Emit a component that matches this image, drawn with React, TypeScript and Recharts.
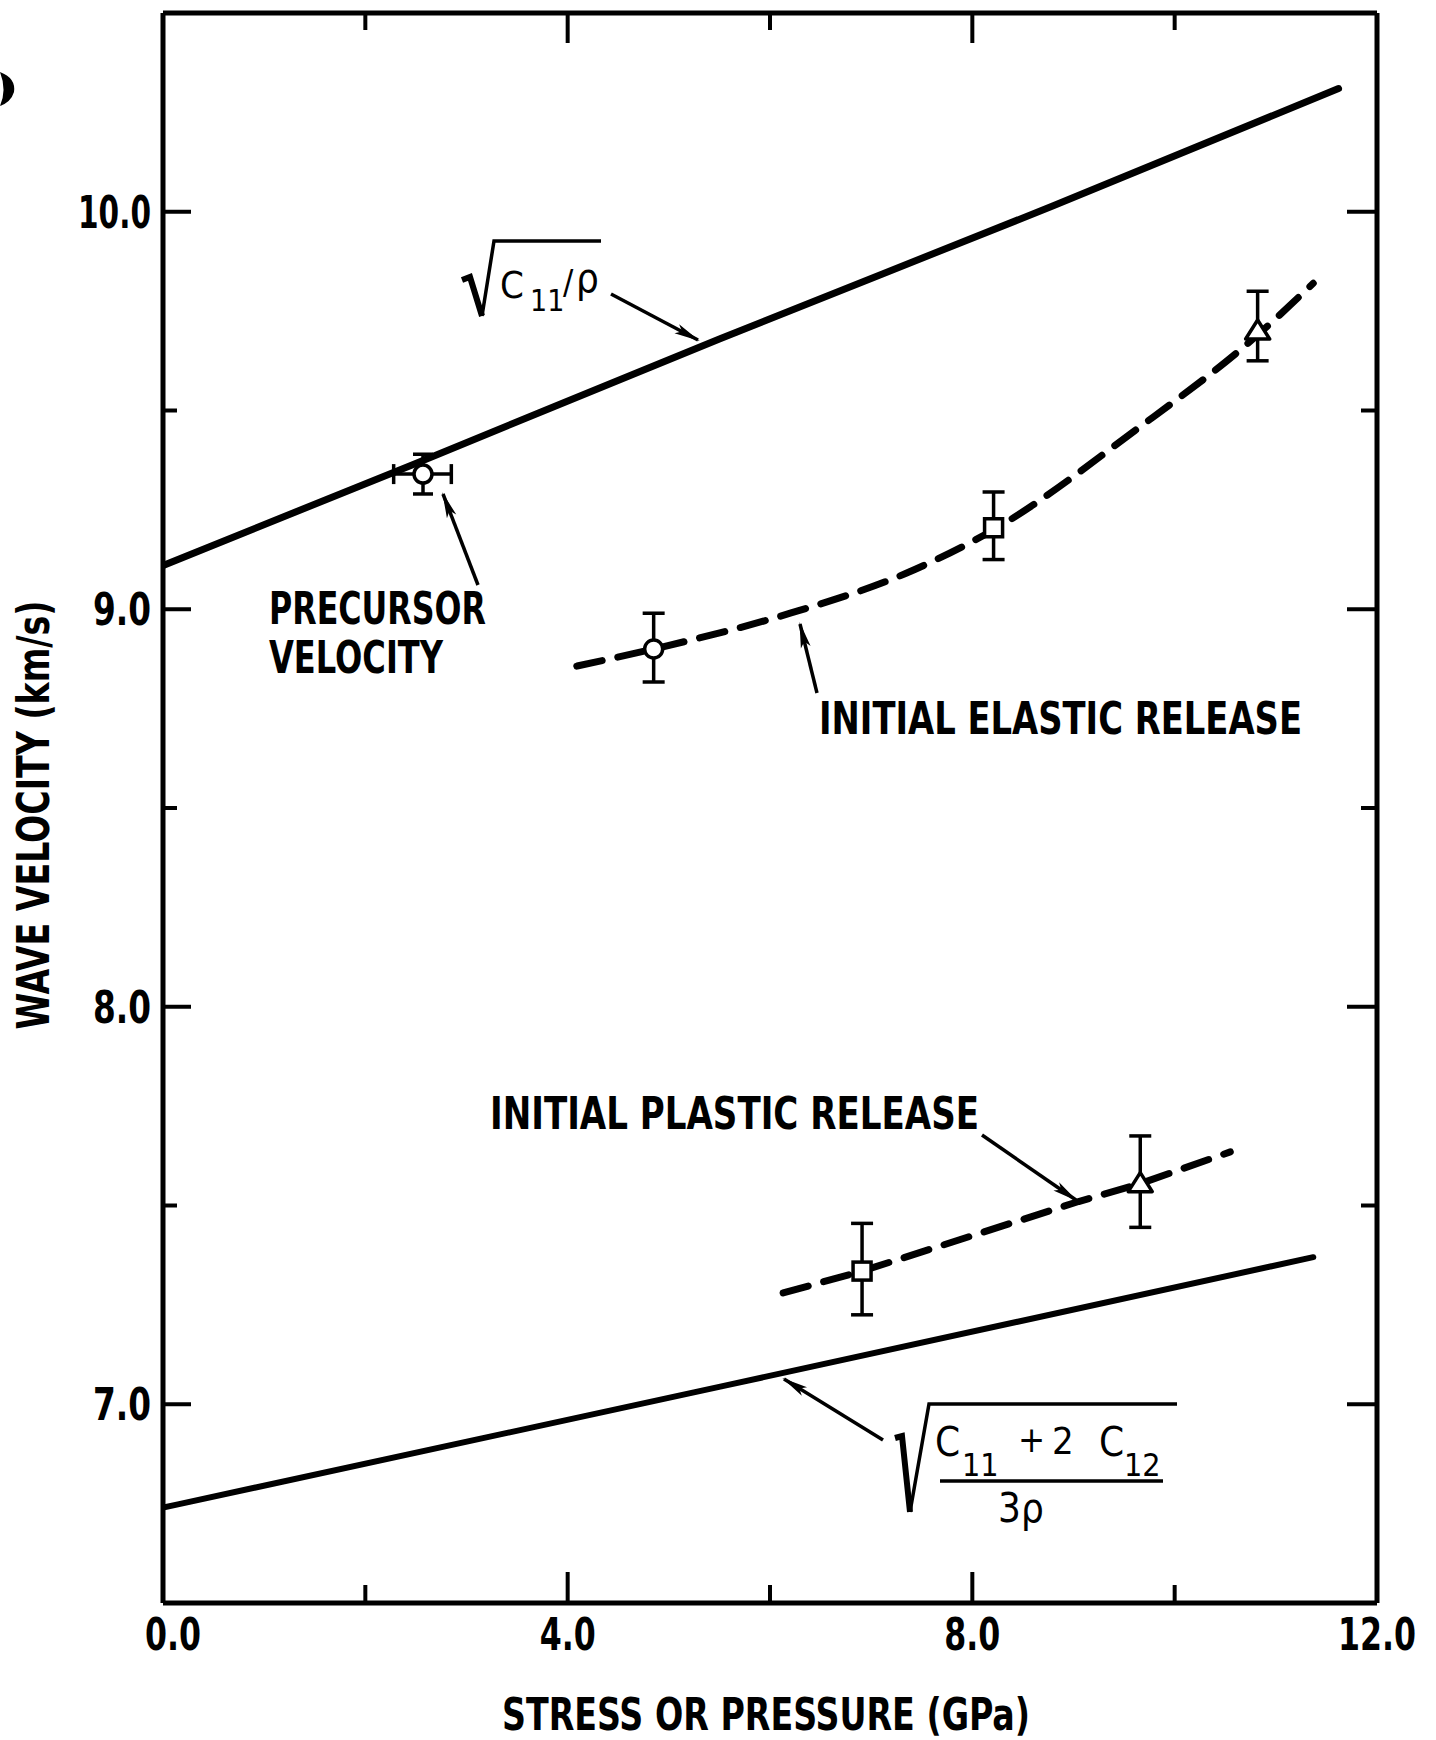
import React from "react";
import { ComposedChart, Line, Scatter, ErrorBar, XAxis, YAxis } from "recharts";

const W = 1436;
const H = 1740;
const FONT = "'DejaVu Sans Condensed', 'DejaVu Sans', sans-serif";

// fitted curves: stress (GPa) vs wave velocity (km/s)
const longStress = [0, 2.48, 5.5, 8.8, 11.62];
const longVelocity = [9.11, 9.365, 9.68, 10.015, 10.31];
const bulkStress = [0, 5.52, 11.37];
const bulkVelocity = [6.74, 7.045, 7.37];
const elasticStress = [4.09, 4.85, 6.2, 7.34, 8.21, 9.61, 10.82, 11.37];
const elasticVelocity = [8.857, 8.9, 8.99, 9.09, 9.2, 9.45, 9.69, 9.82];
const plasticStress = [6.13, 6.91, 9.05, 9.66, 10.55];
const plasticVelocity = [7.28, 7.335, 7.51, 7.555, 7.635];

// measured points with error bars
const precursorStress = [2.57];
const precursorVelocity = [9.34];
const precursorStressErr = [[0.29, 0.28]];
const precursorVelErr = [[0.05, 0.05]];

const circleStress = [4.85];
const circleVelocity = [8.9];
const circleErr = [[0.083, 0.09]];

const squareStress = [8.21, 6.91];
const squareVelocity = [9.205, 7.335];
const squareErr = [[0.08, 0.09], [0.11, 0.12]];

const triangleStress = [10.82, 9.66];
const triangleVelocity = [9.7, 7.555];
const triangleErr = [[0.075, 0.1], [0.11, 0.12]];

// axes
const xTicks = [0, 2, 4, 6, 8, 10, 12];
const xLabels = [0, 4, 8, 12];
const yTicks = [7, 7.5, 8, 8.5, 9, 9.5, 10];
const yLabels = [7, 8, 9, 10];

const zip = (xs: number[], ys: number[]) => xs.map((x, i) => ({ x, y: ys[i] }));

const longData = zip(longStress, longVelocity);
const bulkData = zip(bulkStress, bulkVelocity);
const elasticData = zip(elasticStress, elasticVelocity);
const plasticData = zip(plasticStress, plasticVelocity);
const precursorData = precursorStress.map((x, i) => ({
  x,
  y: precursorVelocity[i],
  ex: precursorStressErr[i],
  ey: precursorVelErr[i],
}));
const circleData = circleStress.map((x, i) => ({ x, y: circleVelocity[i], ey: circleErr[i] }));
const squareData = squareStress.map((x, i) => ({ x, y: squareVelocity[i], ey: squareErr[i] }));
const triangleData = triangleStress.map((x, i) => ({ x, y: triangleVelocity[i], ey: triangleErr[i] }));

const label = (v: number) => v.toFixed(1);

const BottomTick = (p: any) => {
  const v = p.payload.value;
  const major = v % 4 === 0;
  const edge = v === 0 || v === 12;
  return (
    <g>
      {!edge && <line x1={p.x} x2={p.x} y1={p.y} y2={p.y - (major ? 31 : 18)} stroke="#000" strokeWidth={4} />}
      {xLabels.includes(v) && (
        <text x={p.x + (v === 0 ? 10 : 0)} y={p.y + 47} textAnchor="middle" fontFamily={FONT} fontWeight="bold"
          fontSize={44} textLength={v >= 10 ? 78 : 56} lengthAdjust="spacingAndGlyphs">{label(v)}</text>
      )}
    </g>
  );
};

const TopTick = (p: any) => {
  const v = p.payload.value;
  if (v === 0 || v === 12) return <g />;
  const major = v % 4 === 0;
  return <line x1={p.x} x2={p.x} y1={p.y} y2={p.y + (major ? 30 : 17)} stroke="#000" strokeWidth={4} />;
};

const LeftTick = (p: any) => {
  const v = p.payload.value;
  const major = yLabels.includes(v);
  return (
    <g>
      <line x1={p.x} x2={p.x + (major ? 28 : 14)} y1={p.y} y2={p.y} stroke="#000" strokeWidth={4} />
      {major && (
        <text x={p.x - 12} y={p.y + 16} textAnchor="end" fontFamily={FONT} fontWeight="bold" fontSize={44}
          textLength={v >= 10 ? 73 : 58} lengthAdjust="spacingAndGlyphs">{label(v)}</text>
      )}
    </g>
  );
};

const RightTick = (p: any) => {
  const v = p.payload.value;
  const major = yLabels.includes(v);
  return <line x1={p.x} x2={p.x - (major ? 30 : 16)} y1={p.y} y2={p.y} stroke="#000" strokeWidth={4} />;
};

const CircleMark = (p: any) => <circle cx={p.cx} cy={p.cy} r={9} fill="#fff" stroke="#000" strokeWidth={3.5} />;
const SquareMark = (p: any) => (
  <rect x={p.cx - 9} y={p.cy - 9} width={18} height={18} fill="#fff" stroke="#000" strokeWidth={3.5} />
);
const TriangleMark = (p: any) => (
  <polygon points={`${p.cx},${p.cy - 11} ${p.cx + 12},${p.cy + 8} ${p.cx - 12},${p.cy + 8}`}
    fill="#fff" stroke="#000" strokeWidth={3.5} strokeLinejoin="round" />
);

const txt = { fontFamily: FONT, fontWeight: "bold" as const, lengthAdjust: "spacingAndGlyphs" };

function Notes() {
  return (
    <svg width={W} height={H} style={{ position: "absolute", left: 0, top: 0, pointerEvents: "none" }}>
      <defs>
        <marker id="ah" markerWidth="26" markerHeight="14" refX="24" refY="7" orient="auto" markerUnits="userSpaceOnUse">
          <path d="M0,2 L26,7 L0,12 L6,7 Z" fill="#000" />
        </marker>
      </defs>
      {/* scan blot at page edge */}
      <path d="M0,72 Q16,78 14,92 Q11,102 0,106 Q7,90 0,72 Z" fill="#000" />

      {/* sqrt(C11/rho) */}
      <path d="M462,280 L470,277 L482,316" stroke="#000" strokeWidth={6} fill="none" />
      <path d="M482,316 L494,241 L601,241" stroke="#000" strokeWidth={3.5} fill="none" />
      <text x={500} y={298} fontSize={38} {...txt} fontWeight="normal">C</text>
      <text x={530} y={311} fontSize={30} {...txt} fontWeight="normal">11</text>
      <text x={563} y={294} fontSize={34} {...txt} fontWeight="normal">/</text>
      <text x={576} y={292} fontSize={40} {...txt} fontWeight="normal">ρ</text>
      <line x1={611} y1={294} x2={698} y2={340} stroke="#000" strokeWidth={3.5} markerEnd="url(#ah)" />

      {/* precursor */}
      <text x={269} y={624} fontSize={44} textLength={217} {...txt}>PRECURSOR</text>
      <text x={269} y={673} fontSize={44} textLength={174} {...txt}>VELOCITY</text>
      <line x1={478} y1={585} x2={443} y2={494} stroke="#000" strokeWidth={3.5} markerEnd="url(#ah)" />

      {/* elastic release */}
      <text x={819} y={734} fontSize={44} textLength={483} {...txt}>INITIAL ELASTIC RELEASE</text>
      <line x1={817} y1={693} x2={800} y2={624} stroke="#000" strokeWidth={3.5} markerEnd="url(#ah)" />

      {/* plastic release */}
      <text x={490} y={1129} fontSize={44} textLength={489} {...txt}>INITIAL PLASTIC RELEASE</text>
      <line x1={982} y1={1135} x2={1076} y2={1200} stroke="#000" strokeWidth={3.5} markerEnd="url(#ah)" />

      {/* sqrt((C11 + 2 C12) / 3 rho) */}
      <path d="M895,1438 L902,1436 L910,1512" stroke="#000" strokeWidth={6} fill="none" />
      <path d="M910,1512 L929,1404 L1177,1404" stroke="#000" strokeWidth={3.5} fill="none" />
      <text x={935} y={1456} fontSize={40} {...txt} fontWeight="normal">C</text>
      <text x={962} y={1476} fontSize={32} {...txt} fontWeight="normal">11</text>
      <text x={1018} y={1452} fontSize={36} {...txt} fontWeight="normal">+</text>
      <text x={1052} y={1454} fontSize={38} {...txt} fontWeight="normal">2</text>
      <text x={1099} y={1456} fontSize={40} {...txt} fontWeight="normal">C</text>
      <text x={1124} y={1476} fontSize={32} {...txt} fontWeight="normal">12</text>
      <line x1={940} y1={1481} x2={1163} y2={1481} stroke="#000" strokeWidth={3.5} />
      <text x={998} y={1522} fontSize={40} {...txt} fontWeight="normal">3ρ</text>
      <line x1={883} y1={1440} x2={784} y2={1379} stroke="#000" strokeWidth={3.5} markerEnd="url(#ah)" />

      {/* axis titles */}
      <text x={766} y={1730} textAnchor="middle" fontSize={45} textLength={528} {...txt}>STRESS OR PRESSURE (GPa)</text>
      <text x={49} y={815} textAnchor="middle" fontSize={45} textLength={429} transform="rotate(-90 49 815)" {...txt}>
        WAVE VELOCITY (km/s)
      </text>
    </svg>
  );
}

export default function App() {
  return (
    <div style={{ position: "relative", width: W, height: H, background: "#fff" }}>
      <style>{"body{margin:0;background:#fff}"}</style>
      <ComposedChart width={W} height={H} margin={{ top: 12, right: 58, bottom: 0, left: 0 }}>
        <XAxis xAxisId={0} dataKey="x" type="number" domain={[0, 12]} ticks={xTicks} allowDataOverflow
          height={137} tickSize={0} tickMargin={0} tickLine={false} axisLine={{ stroke: "#000", strokeWidth: 5 }}
          tick={BottomTick} interval={0} />
        <XAxis xAxisId="top" orientation="top" dataKey="x" type="number" domain={[0, 12]} ticks={xTicks} allowDataOverflow
          height={1} tickSize={0} tickMargin={0} tickLine={false} axisLine={{ stroke: "#000", strokeWidth: 5 }}
          tick={TopTick} interval={0} />
        <YAxis yAxisId={0} type="number" domain={[6.5, 10.5]} ticks={yTicks} allowDataOverflow
          width={163} tickSize={0} tickMargin={0} tickLine={false} axisLine={{ stroke: "#000", strokeWidth: 5 }}
          tick={LeftTick} interval={0} />
        <YAxis yAxisId="right" orientation="right" type="number" domain={[6.5, 10.5]} ticks={yTicks} allowDataOverflow
          width={1} tickSize={0} tickMargin={0} tickLine={false} axisLine={{ stroke: "#000", strokeWidth: 5 }}
          tick={RightTick} interval={0} />

        <Line data={longData} dataKey="y" type="monotone" stroke="#000" strokeWidth={7} dot={false}
          strokeLinecap="round" isAnimationActive={false} />
        <Line data={bulkData} dataKey="y" xAxisId="top" yAxisId="right" type="monotone" stroke="#000" strokeWidth={6}
          dot={false} strokeLinecap="round" isAnimationActive={false} />
        <Line data={elasticData} dataKey="y" type="monotone" stroke="#000" strokeWidth={7} dot={false}
          strokeDasharray="26 16" strokeLinecap="round" isAnimationActive={false} />
        <Line data={plasticData} dataKey="y" type="linear" stroke="#000" strokeWidth={7} dot={false}
          strokeDasharray="26 16" strokeLinecap="round" isAnimationActive={false} />

        <Scatter data={precursorData} dataKey="y" shape={CircleMark} isAnimationActive={false}>
          <ErrorBar dataKey="ey" direction="y" width={10} stroke="#000" strokeWidth={3.5} isAnimationActive={false} />
          <ErrorBar dataKey="ex" direction="x" width={10} stroke="#000" strokeWidth={3.5} isAnimationActive={false} />
        </Scatter>
        <Scatter data={circleData} dataKey="y" shape={CircleMark} isAnimationActive={false}>
          <ErrorBar dataKey="ey" direction="y" width={11} stroke="#000" strokeWidth={3.5} isAnimationActive={false} />
        </Scatter>
        <Scatter data={squareData} dataKey="y" shape={SquareMark} isAnimationActive={false}>
          <ErrorBar dataKey="ey" direction="y" width={11} stroke="#000" strokeWidth={3.5} isAnimationActive={false} />
        </Scatter>
        <Scatter data={triangleData} dataKey="y" shape={TriangleMark} isAnimationActive={false}>
          <ErrorBar dataKey="ey" direction="y" width={11} stroke="#000" strokeWidth={3.5} isAnimationActive={false} />
        </Scatter>
      </ComposedChart>
      <Notes />
    </div>
  );
}
